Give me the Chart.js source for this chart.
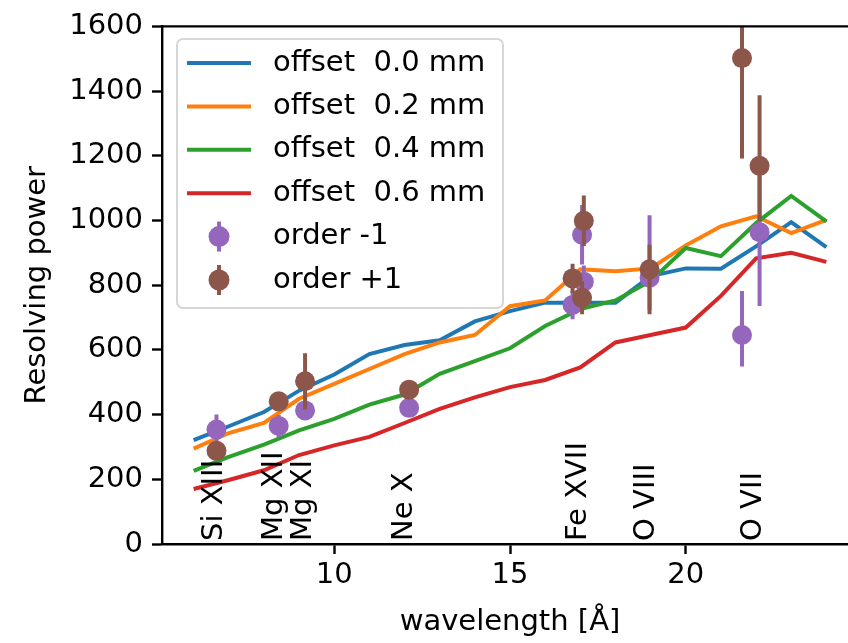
<!DOCTYPE html>
<html>
<head>
<meta charset="utf-8">
<script src="https://cdn.jsdelivr.net/npm/chart.js@4.4.1/dist/chart.umd.min.js"></script>
<style>
  html, body { margin: 0; padding: 0; background: #fff; }
</style>
</head>
<body>
<canvas id="chart" width="848" height="643"></canvas>
<script>
// wavelength grid of the simulated curves [Angstrom]
const wavelength = [6, 7, 8, 9, 10, 11, 12, 13, 14, 15, 16, 17, 18, 19, 20, 21, 22, 23, 24];
const offsets = [0.0, 0.2, 0.4, 0.6];
const offset00 = [321, 364, 408, 474, 524, 587, 615, 630, 688, 720, 746, 746, 746, 828, 852, 851, 920, 995, 918];
const offset02 = [295, 343, 374, 449, 495, 541, 587, 623, 646, 735, 753, 849, 843, 852, 923, 982, 1013, 961, 1002];
const offset04 = [226, 269, 307, 351, 387, 431, 462, 526, 565, 605, 674, 726, 753, 813, 915, 890, 992, 1076, 997];
const offset06 = [170, 198, 228, 275, 305, 331, 374, 418, 453, 485, 507, 546, 623, 646, 669, 767, 883, 900, 872];

// measured lines
const lineWave = [6.65, 8.42, 9.17, 12.13, 16.78, 17.05, 17.10, 18.97, 21.6, 22.1];
const minusPower = [354, 365, 413, 421, 739, 956, 811, 823, 646, 964];
const minusErrLow = [46, 34, 15, 10, 44, 92, 50, 100, 97, 228];
const minusErrHigh = [46, 34, 15, 10, 44, 92, 50, 193, 136, 228];
const plusPower = [288, 441, 503, 477, 821, 761, 999, 849, 1502, 1169];
const plusErrLow = [15, 20, 87, 10, 45, 51, 78, 139, 310, 172];
const plusErrHigh = [15, 20, 87, 10, 45, 51, 78, 76, 310, 218];

// ion labels along the bottom
const ionNames = ['Si XIII', 'Mg XII', 'Mg XI', 'Ne X', 'Fe XVII', 'O VIII', 'O VII'];
const ionWave = [6.6, 8.31, 9.12, 12.01, 16.94, 18.89, 21.92];

const xTicks = [10, 15, 20];
const yTicks = [0, 200, 400, 600, 800, 1000, 1200, 1400, 1600];

const FONT = '"DejaVu Sans", sans-serif';
const FS = 29;
const colors = ['#1f77b4', '#ff7f0e', '#2ca02c', '#d62728'];

const curves = [offset00, offset02, offset04, offset06].map((vals, i) => ({
  type: 'line',
  label: `offset  ${offsets[i].toFixed(1)} mm`,
  data: wavelength.map((w, j) => ({ x: w, y: vals[j] })),
  borderColor: colors[i],
  backgroundColor: colors[i],
  borderWidth: 4,
  pointRadius: 0,
  tension: 0,
  order: 6 - i
}));

function points(label, color, power, lo, hi, order) {
  return {
    type: 'scatter',
    label: label,
    data: lineWave.map((w, i) => ({ x: w, y: power[i] })),
    errLow: lo,
    errHigh: hi,
    backgroundColor: color,
    borderColor: color,
    borderWidth: 0,
    pointRadius: 10,
    pointHoverRadius: 10,
    order: order
  };
}

// the axes run on past the right edge of the picture (x up to 24.9)
const widenX = {
  id: 'widenX',
  afterLayout(chart) {
    const x = chart.scales.x;
    const right = 858;
    x.right = right;
    x.width = right - x.left;
    x.configure();
    chart.chartArea.right = right;
    chart.chartArea.width = right - chart.chartArea.left;
  }
};

const errorBars = {
  id: 'errorBars',
  beforeDatasetDraw(chart, args) {
    const ds = chart.data.datasets[args.index];
    if (!ds.errLow) return;
    const { ctx, chartArea: a, scales: { x, y } } = chart;
    ctx.save();
    ctx.beginPath();
    ctx.rect(a.left, a.top, a.right - a.left, a.bottom - a.top);
    ctx.clip();
    ctx.strokeStyle = ds.backgroundColor;
    ctx.lineWidth = 4;
    ds.data.forEach((p, i) => {
      const px = x.getPixelForValue(p.x);
      ctx.beginPath();
      ctx.moveTo(px, y.getPixelForValue(p.y - ds.errLow[i]));
      ctx.lineTo(px, y.getPixelForValue(p.y + ds.errHigh[i]));
      ctx.stroke();
    });
    ctx.restore();
  }
};

const decorations = {
  id: 'decorations',
  afterDatasetsDraw(chart) {
    const { ctx, chartArea: a, scales: { x, y } } = chart;
    ctx.save();
    // top spine
    ctx.strokeStyle = '#000';
    ctx.lineWidth = 2.4;
    ctx.beginPath();
    ctx.moveTo(a.left - 1.2, a.top);
    ctx.lineTo(a.right, a.top);
    ctx.stroke();

    // ion labels
    ctx.fillStyle = '#000';
    ctx.font = `${FS}px ${FONT}`;
    ctx.textAlign = 'left';
    ctx.textBaseline = 'middle';
    ionNames.forEach((name, i) => {
      ctx.save();
      ctx.translate(x.getPixelForValue(ionWave[i]), y.getPixelForValue(0) - 3);
      ctx.rotate(-Math.PI / 2);
      ctx.fillText(name, 0, 0);
      ctx.restore();
    });

    // legend
    const bx = 177, by = 39, bw = 326, bh = 269, r = 6;
    ctx.fillStyle = 'rgba(255,255,255,0.8)';
    ctx.strokeStyle = 'rgba(204,204,204,0.8)';
    ctx.lineWidth = 2;
    ctx.beginPath();
    ctx.roundRect(bx, by, bw, bh, r);
    ctx.fill();
    ctx.stroke();
    chart.data.datasets.forEach((ds, i) => {
      const cy = 63 + i * 43.4;
      ctx.strokeStyle = ds.borderColor;
      ctx.fillStyle = ds.backgroundColor;
      if (ds.type === 'line') {
        ctx.lineWidth = 4;
        ctx.beginPath();
        ctx.moveTo(187, cy);
        ctx.lineTo(251, cy);
        ctx.stroke();
      } else {
        ctx.lineWidth = 4;
        ctx.beginPath();
        ctx.moveTo(219, cy - 15);
        ctx.lineTo(219, cy + 15);
        ctx.stroke();
        ctx.beginPath();
        ctx.arc(219, cy, 10.5, 0, Math.PI * 2);
        ctx.fill();
      }
      ctx.fillStyle = '#000';
      ctx.fillText(ds.label, 273, cy);
    });
    ctx.restore();
  }
};

new Chart(document.getElementById('chart'), {
  data: {
    datasets: curves.concat([
      points('order -1', '#9467bd', minusPower, minusErrLow, minusErrHigh, 2),
      points('order +1', '#8c564b', plusPower, plusErrLow, plusErrHigh, 1)
    ])
  },
  options: {
    responsive: false,
    animation: false,
    devicePixelRatio: 1,
    layout: { padding: { top: 24, right: 0, bottom: 0, left: 0 } },
    plugins: { legend: { display: false }, tooltip: { enabled: false } },
    scales: {
      x: {
        type: 'linear',
        min: 5.1,
        max: 24.9,
        afterBuildTicks: s => { s.ticks = xTicks.map(v => ({ value: v })); },
        afterFit: s => { s.height = 99; },
        grid: { drawOnChartArea: false, drawTicks: true, tickLength: 10, tickWidth: 2.4, tickColor: '#000' },
        border: { color: '#000', width: 2.4 },
        ticks: { color: '#000', font: { family: FONT, size: FS }, padding: 4, maxRotation: 0, callback: v => String(v) },
        title: { display: true, text: 'wavelength [Å]', color: '#000', font: { family: FONT, size: FS }, padding: { top: 0, bottom: 3 } }
      },
      y: {
        type: 'linear',
        min: 0,
        max: 1600,
        afterBuildTicks: s => { s.ticks = yTicks.map(v => ({ value: v })); },
        afterFit: s => { s.width = 162; },
        grid: { drawOnChartArea: false, drawTicks: true, tickLength: 10, tickWidth: 2.4, tickColor: '#000' },
        border: { color: '#000', width: 2.4 },
        ticks: { color: '#000', font: { family: FONT, size: FS }, padding: 9, callback: v => String(v) },
        title: { display: true, text: 'Resolving power', color: '#000', font: { family: FONT, size: FS }, padding: { top: 20, bottom: 0 } }
      }
    }
  },
  plugins: [widenX, errorBars, decorations]
});
</script>
</body>
</html>
